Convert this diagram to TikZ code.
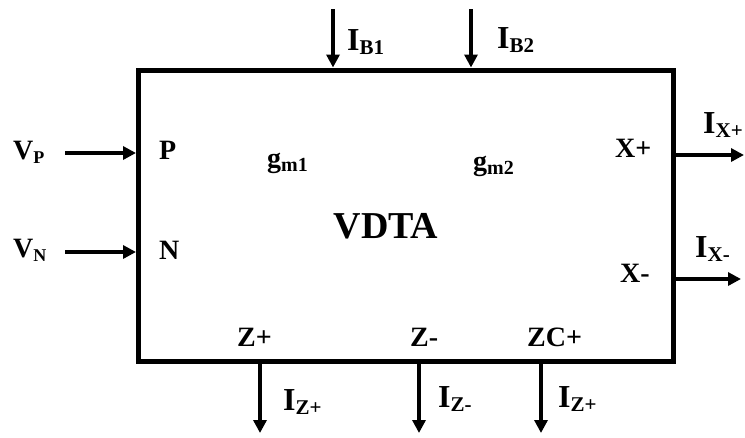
\documentclass[tikz,border=0pt]{standalone}
\usepackage{fontspec}
\setmainfont{Liberation Serif}
\usetikzlibrary{arrows.meta}
\newcommand{\Ilab}[1]{{\fontsize{32}{32}\selectfont I}\raisebox{-4pt}{\fontsize{21}{21}\selectfont #1}}
\newcommand{\Vlab}[1]{{\fontsize{28}{28}\selectfont V}\raisebox{-4pt}{\fontsize{18}{18}\selectfont #1}}
\newcommand{\glab}[1]{{\fontsize{28}{28}\selectfont g}\raisebox{-4pt}{\fontsize{20}{20}\selectfont #1}}
\begin{document}
\begin{tikzpicture}[x=1pt,y=-1pt,
  every node/.style={inner sep=0pt},
  lbl/.style={anchor=base west, font=\bfseries\fontsize{28}{28}\selectfont},
  arr/.style={line width=4pt, -{Triangle[length=13pt,width=13pt]}},
  blockbox/.style={draw, line width=5pt, minimum width=535pt, minimum height=291.5pt}]
\useasboundingbox (0,0) rectangle (745,437);
\node[blockbox] (box) at (406,215.75) {};
% endpoints
\coordinate (ib1) at (333,9);
\coordinate (ib2) at (471,9);
\coordinate (vp) at (65,153);
\coordinate (vn) at (65,252);
\coordinate (xp) at (744,155);
\coordinate (xm) at (741,279);
\coordinate (zp) at (260,433);
\coordinate (zm) at (419,433);
\coordinate (zc) at (541,433);
% arrows
\draw[arr] (ib1) -- (ib1 |- box.north);
\draw[arr] (ib2) -- (ib2 |- box.north);
\draw[arr] (vp) -- (vp -| box.west);
\draw[arr] (vn) -- (vn -| box.west);
\draw[arr] (box.east |- xp) -- (xp);
\draw[arr] (box.east |- xm) -- (xm);
\draw[arr] (zp |- box.south) -- (zp);
\draw[arr] (zm |- box.south) -- (zm);
\draw[arr] (zc |- box.south) -- (zc);
% outside labels
\node[lbl] (lib1) at (347,50) {\Ilab{B1}};
\node[lbl] (lib2) at (497,48) {\Ilab{B2}};
\node[lbl] (lvp) at (13,159) {\Vlab{P}};
\node[lbl] (lvn) at (13,257) {\Vlab{N}};
\node[lbl] (lixp) at (703,133) {\Ilab{X+}};
\node[lbl] (lixm) at (695,257) {\Ilab{X-}};
\node[lbl] (lizp) at (283,410) {\Ilab{Z+}};
\node[lbl] (lizm) at (438,407) {\Ilab{Z-}};
\node[lbl] (lizc) at (558,407) {\Ilab{Z+}};
% inside labels
\node[lbl] (lp) at (159,159) {P};
\node[lbl] (ln) at (159,259) {N};
\node[lbl] (lg1) at (267,167) {\glab{m1}};
\node[lbl] (lg2) at (473,170) {\glab{m2}};
\node[anchor=base, font=\bfseries\fontsize{38}{38}\selectfont] (vdta) at (386,238) {VDTA};
\node[lbl] (lxp) at (615,157) {X+};
\node[lbl] (lxm) at (620,282) {X-};
\node[lbl] (lzp) at (237,346) {Z+};
\node[lbl] (lzm) at (410,346) {Z-};
\node[lbl] (lzc) at (527,346) {ZC+};
\end{tikzpicture}
\end{document}
